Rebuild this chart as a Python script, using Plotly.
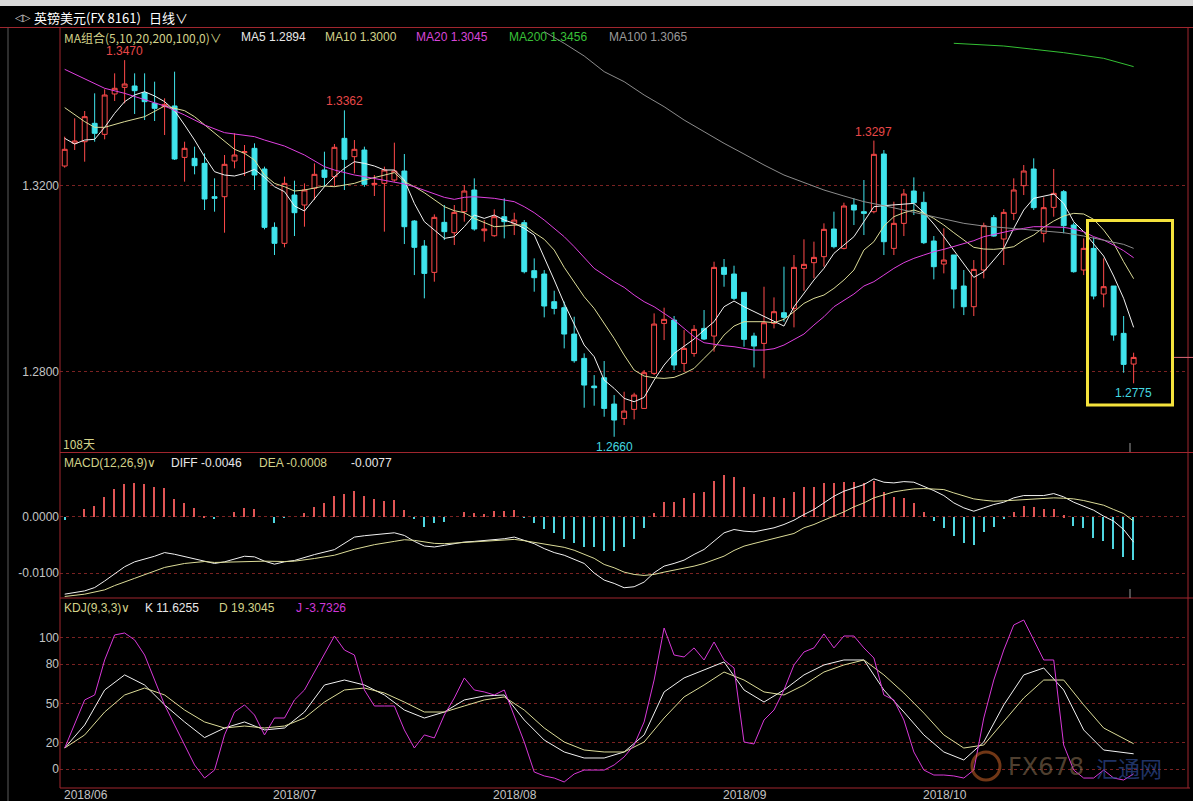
import plotly.graph_objects as go

W, H = 1193, 801

# ---------------- data ----------------
opens = [1.32423, 1.32911, 1.32946, 1.33341, 1.33104, 1.33972, 1.34115, 1.34144, 1.34000, 1.33771,
         1.33699, 1.33714, 1.32609, 1.32588, 1.32480, 1.31763, 1.31763, 1.32531, 1.32710, 1.32803,
         1.32358, 1.31104, 1.30760, 1.31799, 1.31584, 1.31943, 1.32337, 1.32194, 1.33018, 1.32624,
         1.32767, 1.32022, 1.32050, 1.32122, 1.32315, 1.31240, 1.30702, 1.30136, 1.31211, 1.30989,
         1.31441, 1.31907, 1.31032, 1.30924, 1.31333, 1.31190, 1.31204, 1.30172, 1.30100, 1.29505,
         1.29376, 1.28809, 1.28286, 1.27691, 1.27870, 1.27304, 1.26995, 1.27189, 1.27210, 1.27963,
         1.29039, 1.29110, 1.28178, 1.28393, 1.28931, 1.28766, 1.30243, 1.30100, 1.29706, 1.28766,
         1.28609, 1.29039, 1.29268, 1.29361, 1.30222, 1.30344, 1.30473, 1.31068, 1.30652, 1.31584,
         1.31441, 1.31441, 1.32681, 1.30652, 1.31190, 1.31885, 1.31641, 1.30810, 1.30315, 1.30509,
         1.29842, 1.29397, 1.30186, 1.31312, 1.30853, 1.31405, 1.32000, 1.32359, 1.30975, 1.31534,
         1.31871, 1.31154, 1.30186, 1.30652, 1.29670, 1.29842, 1.28824, 1.28164]
highs = [1.33054, 1.33448, 1.33606, 1.33986, 1.34072, 1.34416, 1.34700, 1.34416, 1.34416, 1.34237,
         1.33879, 1.34452, 1.32946, 1.32839, 1.32695, 1.32158, 1.32660, 1.33126, 1.32875, 1.32911,
         1.32409, 1.31211, 1.32194, 1.32108, 1.32050, 1.32480, 1.32731, 1.32896, 1.33620, 1.32982,
         1.32839, 1.32229, 1.32409, 1.32925, 1.32681, 1.31261, 1.30831, 1.31383, 1.31584, 1.31584,
         1.32014, 1.32158, 1.31261, 1.31491, 1.31728, 1.31419, 1.31261, 1.30437, 1.30186, 1.29741,
         1.29505, 1.29182, 1.28394, 1.27927, 1.28229, 1.27497, 1.27569, 1.27547, 1.28035, 1.29254,
         1.29376, 1.29197, 1.28895, 1.29003, 1.29326, 1.30365, 1.30423, 1.30279, 1.29706, 1.28838,
         1.29827, 1.29598, 1.30258, 1.30509, 1.30846, 1.30796, 1.31190, 1.31441, 1.31634, 1.31728,
         1.32122, 1.32970, 1.32767, 1.31656, 1.31928, 1.32179, 1.31871, 1.30917, 1.31082, 1.30509,
         1.30186, 1.30401, 1.31204, 1.31369, 1.31498, 1.32158, 1.32445, 1.32588, 1.31749, 1.32359,
         1.31907, 1.31204, 1.30867, 1.30889, 1.30437, 1.29842, 1.29197, 1.28408]
lows = [1.32387, 1.32767, 1.32516, 1.32946, 1.32997, 1.33821, 1.33771, 1.33542, 1.33412, 1.33391,
        1.33090, 1.32552, 1.32086, 1.32244, 1.31477, 1.31441, 1.30989, 1.32373, 1.32208, 1.31907,
        1.31061, 1.30509, 1.30674, 1.30917, 1.31118, 1.31692, 1.31978, 1.31978, 1.31907, 1.32265,
        1.31978, 1.31778, 1.31011, 1.32086, 1.30745, 1.30078, 1.29577, 1.29935, 1.30831, 1.30724,
        1.31226, 1.31032, 1.30795, 1.30903, 1.30867, 1.30939, 1.30114, 1.29720, 1.29168, 1.29232,
        1.28501, 1.28193, 1.27225, 1.27268, 1.27031, 1.26600, 1.26852, 1.26974, 1.27210, 1.27927,
        1.28680, 1.28035, 1.27999, 1.28322, 1.28680, 1.28429, 1.29827, 1.29541, 1.28537, 1.28092,
        1.27856, 1.28931, 1.29075, 1.28953, 1.29741, 1.30007, 1.30258, 1.30652, 1.30630, 1.31154,
        1.30939, 1.31405, 1.30509, 1.30509, 1.30917, 1.31369, 1.30745, 1.29985, 1.30114, 1.29361,
        1.29218, 1.29197, 1.30007, 1.30903, 1.30294, 1.31261, 1.31799, 1.31477, 1.30781, 1.31333,
        1.30975, 1.30129, 1.30078, 1.29555, 1.29383, 1.28666, 1.27978, 1.27750]
closes = [1.32782, 1.32961, 1.33484, 1.33126, 1.33950, 1.34094, 1.34187, 1.34043, 1.33807, 1.33663,
          1.33749, 1.32574, 1.32803, 1.32430, 1.31713, 1.31728, 1.32459, 1.32660, 1.32731, 1.32229,
          1.31104, 1.30760, 1.32050, 1.31419, 1.31907, 1.32244, 1.32179, 1.32825, 1.32566, 1.32782,
          1.32029, 1.32050, 1.32337, 1.32315, 1.31118, 1.30674, 1.30114, 1.31319, 1.31011, 1.31426,
          1.31885, 1.31068, 1.31068, 1.31333, 1.31226, 1.31261, 1.30150, 1.30021, 1.29412, 1.29361,
          1.28809, 1.28236, 1.27712, 1.27655, 1.27210, 1.26960, 1.27153, 1.27497, 1.27978, 1.29024,
          1.29125, 1.28143, 1.28501, 1.28910, 1.28702, 1.30243, 1.30093, 1.29577, 1.28695, 1.28551,
          1.29053, 1.29290, 1.29168, 1.30243, 1.30308, 1.30458, 1.31061, 1.30688, 1.31563, 1.31477,
          1.31405, 1.32674, 1.30795, 1.31190, 1.31821, 1.31634, 1.30774, 1.30258, 1.30401, 1.29777,
          1.29397, 1.30200, 1.31140, 1.30917, 1.31426, 1.31907, 1.32315, 1.31527, 1.31527, 1.31835,
          1.31140, 1.30150, 1.30652, 1.29627, 1.29828, 1.28788, 1.28157, 1.28307]
days = list(range(len(closes)))

ma5 = [1.33018, 1.32896, 1.32982, 1.32997, 1.33255, 1.33556, 1.33807, 1.33951, 1.34022, 1.33929,
       1.33807, 1.33613, 1.33305, 1.32982, 1.32624, 1.32301, 1.32229, 1.32208, 1.32265, 1.32351,
       1.32179, 1.31978, 1.31871, 1.31563, 1.31455, 1.31728, 1.31978, 1.32194, 1.32373, 1.32516,
       1.32480, 1.32423, 1.32337, 1.32337, 1.32122, 1.31620, 1.31226, 1.31046, 1.30867, 1.30903,
       1.31118, 1.31369, 1.31297, 1.31369, 1.31261, 1.31190, 1.31082, 1.30939, 1.30473, 1.29971,
       1.29469, 1.29003, 1.28573, 1.28322, 1.27820, 1.27641, 1.27426, 1.27354, 1.27447, 1.27820,
       1.28143, 1.28393, 1.28551, 1.28702, 1.28895, 1.29075, 1.29397, 1.29519, 1.29397, 1.29290,
       1.29182, 1.29075, 1.28981, 1.29397, 1.29684, 1.29971, 1.30222, 1.30544, 1.30724, 1.30903,
       1.31226, 1.31548, 1.31570, 1.31591, 1.31606, 1.31620, 1.31419, 1.31175, 1.30903, 1.30616,
       1.30329, 1.30028, 1.30150, 1.30401, 1.30652, 1.31082, 1.31477, 1.31728, 1.31778, 1.31821,
       1.31620, 1.31226, 1.31011, 1.30760, 1.30487, 1.30057, 1.29577, 1.28953]

ma10_x = [0, 2, 3, 4, 6, 8, 10, 12, 13, 14, 16, 17, 18, 19, 20, 21, 22, 23, 24, 26,
          27, 29, 30, 32, 33, 34, 35, 36, 37, 38, 39, 40, 41, 42, 43, 44, 45, 46, 47, 48,
          49, 50, 51, 52, 53, 54, 55, 56, 57, 58, 59, 60, 61, 62, 63, 64, 65, 66, 67, 68,
          69, 70, 71, 72, 73, 74, 75, 76, 77, 78, 79, 80, 81, 82, 83, 84, 85, 86, 87, 88,
          89, 90, 91, 92, 93, 94, 95, 96, 97, 98, 99, 100, 101, 102, 103, 104, 105, 106, 107]
ma10 = [1.33678, 1.33377, 1.33255, 1.33255, 1.33377, 1.33484, 1.33714, 1.33613, 1.33484, 1.33305,
        1.32946, 1.32782, 1.32695, 1.32552, 1.32229, 1.32050, 1.31978, 1.31885, 1.31907, 1.31993,
        1.31978, 1.32050, 1.32122, 1.32229, 1.32280, 1.32086, 1.31978, 1.31849, 1.31692, 1.31548,
        1.31462, 1.31419, 1.31297, 1.31204, 1.31118, 1.31132, 1.31154, 1.31154, 1.30989, 1.30846,
        1.30616, 1.30243, 1.29935, 1.29612, 1.29361, 1.29039, 1.28716, 1.28358, 1.28035, 1.27906,
        1.27870, 1.27856, 1.27877, 1.27963, 1.28071, 1.28286, 1.28501, 1.28788, 1.28981, 1.29075,
        1.29075, 1.29075, 1.29053, 1.29125, 1.29290, 1.29469, 1.29577, 1.29648, 1.29792, 1.29971,
        1.30186, 1.30616, 1.30795, 1.31132, 1.31333, 1.31419, 1.31477, 1.31405, 1.31297, 1.31154,
        1.30989, 1.30831, 1.30674, 1.30638, 1.30631, 1.30652, 1.30688, 1.30831, 1.30939, 1.31104,
        1.31240, 1.31348, 1.31405, 1.31391, 1.31276, 1.31046, 1.30760, 1.30365, 1.30000]

ma20_x = [0, 4, 6, 8, 10, 12, 14, 16, 18, 19, 20, 22, 24, 26,
          27, 29, 30, 32, 34, 35, 36, 37, 38, 39, 40, 41, 42, 43, 44, 45, 46, 47, 48, 49, 50, 51, 52, 53,
          54, 55, 56, 57, 58, 59, 60, 61, 62, 63, 64, 65, 66, 67, 68, 69, 70, 71, 72, 73, 74, 75, 76, 77, 78, 79, 80,
          81, 82, 83, 84, 85, 86, 87, 88, 89, 90, 91, 92, 93, 94, 95, 96, 97, 98, 99, 100, 101, 102, 103, 104, 105, 106, 107]
ma20 = [1.34502, 1.34094, 1.33986, 1.33843, 1.33714, 1.33520, 1.33305, 1.33140, 1.33090, 1.33054, 1.32982, 1.32853, 1.32660, 1.32409,
        1.32337, 1.32229, 1.32194, 1.32122, 1.32036, 1.31978, 1.31907, 1.31821, 1.31749, 1.31706, 1.31749, 1.31763, 1.31749, 1.31728,
        1.31692, 1.31656, 1.31548, 1.31419, 1.31261, 1.31082, 1.30903, 1.30688, 1.30458, 1.30222,
        1.30078, 1.29935, 1.29813, 1.29648, 1.29505, 1.29397, 1.29254, 1.29110, 1.28931, 1.28752, 1.28623, 1.28587, 1.28558,
        1.28537, 1.28501, 1.28465, 1.28465, 1.28494, 1.28573, 1.28695, 1.28809, 1.29003, 1.29182, 1.29397, 1.29526, 1.29670, 1.29842,
        1.29935, 1.30078, 1.30222, 1.30344, 1.30437, 1.30509, 1.30580, 1.30631, 1.30688, 1.30745, 1.30817, 1.30903, 1.30953, 1.30996,
        1.31046, 1.31082, 1.31118, 1.31118, 1.31118, 1.31104, 1.31068, 1.31011, 1.30903, 1.30831, 1.30724, 1.30602, 1.30451]

ma100_x = [48, 50, 52, 54, 56, 58, 60, 62, 64, 66, 68, 70, 72, 74, 76, 78, 80, 82, 84, 86,
           88, 90, 92, 94, 96, 98, 100, 102, 104, 106, 107]
ma100 = [1.35313, 1.35062, 1.34789, 1.34452, 1.34237, 1.33950, 1.33699, 1.33412, 1.33162, 1.32911,
         1.32681, 1.32445, 1.32229, 1.32065, 1.31907, 1.31778, 1.31656, 1.31570, 1.31477, 1.31369,
         1.31276, 1.31190, 1.31132, 1.31097, 1.31068, 1.31032, 1.30989, 1.30917, 1.30831, 1.30738, 1.30652]

ma200_x = [89, 94, 97, 100, 104, 107]
ma200 = [1.35062, 1.35004, 1.34933, 1.34861, 1.34739, 1.34560]

macd_hist = [-0.0006, 0.0, 0.00144, 0.00191, 0.00349, 0.00495, 0.00582, 0.00600, 0.00582, 0.00524,
             0.00512, 0.00325, 0.00249, 0.00162, 0.00016, -0.00043, 0.0, 0.00092, 0.00162, 0.00144,
             0.0, -0.00101, -0.00008, 0.0, 0.00063, 0.00179, 0.00249, 0.00366, 0.00407, 0.00460,
             0.00366, 0.00320, 0.00290, 0.00308, 0.00133, -0.00019, -0.00171, -0.00101, -0.00084, 0.0,
             0.00092, 0.00074, 0.00045, 0.00103, 0.00115, 0.00133, -0.00008, -0.00101, -0.00218, -0.00276,
             -0.00393, -0.00463, -0.00522, -0.00539, -0.00595, -0.00595, -0.00524, -0.00395, -0.00200, 0.00065,
             0.00271, 0.00271, 0.00330, 0.00418, 0.00436, 0.00642, 0.00742, 0.00701, 0.00536, 0.00406,
             0.00359, 0.00359, 0.00330, 0.00442, 0.00524, 0.00536, 0.00607, 0.00595, 0.00618, 0.00624,
             0.00607, 0.00642, 0.00448, 0.00348, 0.00330, 0.00253, 0.00094, -0.00071, -0.00188, -0.00330,
             -0.00454, -0.00495, -0.00259, -0.00183, -0.00041, 0.00094, 0.00200, 0.00183, 0.00135, 0.00135,
             0.00035, -0.00159, -0.00200, -0.00365, -0.00418, -0.00571, -0.00713, -0.00760]

diff_x = [0, 2, 3, 4, 6, 7, 9, 10, 11, 13, 14, 15, 16, 18, 19, 20, 21, 22, 23, 25, 27, 29, 30, 32, 33, 34,
          35, 36, 37, 38, 40, 41, 43, 44, 45, 46, 47, 48, 49, 50, 51, 52, 53,
          54, 55, 56, 57, 58, 59, 60, 61, 62, 63, 64, 65, 66, 67, 68, 69, 70, 71, 72, 73, 74, 75, 76, 77,
          78, 79, 80, 81, 82, 83, 84, 85, 86, 87, 88, 89, 90, 91, 92, 93, 94, 95, 96, 97, 98, 99, 100,
          101, 102, 103, 104, 105, 106, 107]
diff = [-0.01374, -0.01316, -0.01257, -0.01141, -0.00889, -0.00802, -0.00703, -0.00638, -0.00668, -0.00743,
        -0.00790, -0.00831, -0.00802, -0.00703, -0.00714, -0.00790, -0.00843, -0.00802, -0.00778, -0.00673,
        -0.00586, -0.00364, -0.00340, -0.00311, -0.00288, -0.00335, -0.00440, -0.00522, -0.00539, -0.00510,
        -0.00451, -0.00440, -0.00416, -0.00393, -0.00364, -0.00416, -0.00481, -0.00568, -0.00638, -0.00685,
        -0.00755, -0.00831, -0.01000,
        -0.01125, -0.01184, -0.01260, -0.01243, -0.01160, -0.00995, -0.00878, -0.00830, -0.00772, -0.00671,
        -0.00583, -0.00436, -0.00289, -0.00230, -0.00259, -0.00271, -0.00241, -0.00200, -0.00141, -0.00065,
        0.00035, 0.00124, 0.00241, 0.00359, 0.00448, 0.00507, 0.00565, 0.00666, 0.00607, 0.00595,
        0.00618, 0.00607, 0.00536, 0.00459, 0.00371, 0.00241, 0.00153, 0.00094, 0.00153, 0.00212,
        0.00253, 0.00330, 0.00371, 0.00371, 0.00371, 0.00406, 0.00348, 0.00253, 0.00183, 0.00112,
        0.00006, -0.00082, -0.00230, -0.00454]

dea_x = [0, 2, 4, 5, 7, 9, 10, 12, 14, 15, 16, 18, 20, 22, 23, 25, 27, 29, 31, 33, 34, 35, 37, 38,
         40, 42, 43, 45, 46, 48, 50, 51, 52, 53,
         54, 55, 56, 57, 58, 59, 60, 61, 62, 63, 64, 65, 66, 67, 68, 69, 70, 71, 72, 73, 74, 75, 76, 77,
         78, 79, 80, 81, 82, 83, 84, 85, 86, 87, 88, 89, 90, 91, 92, 93, 94, 95, 96, 97, 98, 99, 100,
         101, 102, 103, 104, 105, 106, 107]
dea = [-0.01415, -0.01374, -0.01298, -0.01222, -0.01094, -0.00965, -0.00901, -0.00831, -0.00796, -0.00813,
       -0.00808, -0.00790, -0.00790, -0.00796, -0.00790, -0.00743, -0.00685, -0.00580, -0.00498, -0.00440,
       -0.00411, -0.00422, -0.00475, -0.00481, -0.00463, -0.00440, -0.00434, -0.00405, -0.00428, -0.00492,
       -0.00545, -0.00597, -0.00670, -0.00740,
       -0.00848, -0.00907, -0.00984, -0.01025, -0.01043, -0.01025, -0.00984, -0.00948, -0.00919, -0.00878,
       -0.00830, -0.00772, -0.00701, -0.00601, -0.00524, -0.00477, -0.00436, -0.00395, -0.00348, -0.00300,
       -0.00200, -0.00141, -0.00065, 0.00006, 0.00082, 0.00171, 0.00241, 0.00330, 0.00389, 0.00436,
       0.00465, 0.00489, 0.00495, 0.00489, 0.00477, 0.00418, 0.00371, 0.00312, 0.00289, 0.00271,
       0.00277, 0.00289, 0.00300, 0.00312, 0.00324, 0.00330, 0.00324, 0.00312, 0.00283, 0.00241,
       0.00200, 0.00124, 0.00053, -0.00082]

k_x = [0, 2, 4, 6, 8, 10, 12, 14, 16, 18, 20, 22, 24, 26, 28, 30, 32, 34, 36, 38, 40, 42, 44, 46, 48,
       50, 52, 54, 56, 58, 60, 62, 64, 66, 68, 70, 72, 74, 76, 78, 80, 82, 84, 86, 88, 90, 92, 94, 96,
       98, 100, 102, 104, 107]
k_vals = [16.0, 33.6, 60.3, 71.8, 64.1, 48.9, 35.9, 24.0, 31.3, 35.9, 29.8, 31.3, 43.5, 64.1, 67.9, 64.1,
          56.5, 45.0, 38.9, 43.5, 52.7, 55.7, 56.5, 37.4, 22.1, 13.0, 8.4, 8.4, 13.0, 26.0, 58.8, 69.5,
          75.6, 81.7, 60.3, 51.1, 60.3, 71.8, 79.4, 83.2, 83.2, 60.3, 43.5, 26.0, 13.0, 6.9, 20.6, 48.9,
          71.8, 77.1, 60.3, 29.8, 14.5, 11.6]
d_x = k_x
d_vals = [16.0, 26.0, 43.5, 56.5, 61.8, 56.5, 45.0, 35.9, 31.3, 32.8, 31.3, 32.8, 38.9, 51.1, 60.3, 61.8,
          58.0, 51.1, 43.5, 43.5, 48.1, 52.7, 55.0, 45.0, 31.3, 20.6, 14.5, 13.0, 13.0, 20.6, 38.9, 55.0,
          64.1, 74.0, 67.9, 58.8, 56.5, 64.1, 74.0, 79.4, 83.2, 71.8, 58.0, 42.7, 26.0, 16.0, 18.3, 35.9,
          54.2, 67.9, 67.9, 48.9, 31.3, 19.3]
j_x = [0] + list(range(2, 108))
j_vals = [16.0, 52.7, 56.5, 83.2, 102.3, 103.8, 98.5, 87.0, 67.9, 48.9, 33.6, 18.3, 3.1, -6.9, -0.8, 26.0,
          43.5, 48.9, 41.2, 26.0, 38.9, 38.9, 52.7, 60.3, 74.0, 87.0, 101.5, 90.8, 87.0, 60.3, 48.1, 48.1,
          48.1, 29.8, 16.0, 26.0, 23.7, 41.2, 54.2, 69.5, 60.3, 58.8, 56.5, 60.3, 41.2, 20.6, -2.3, -5.3,
          -6.9, -9.9, -3.8, -0.8, -0.8, -0.8, 3.1, 9.2, 18.3, 35.9, 67.9, 107.6, 87.0, 85.5, 92.4, 83.2,
          96.9, 83.2, 77.1, 20.6, 19.1, 37.4, 45.0, 60.3, 79.4, 89.3, 92.4, 103.1, 92.4, 101.5, 101.5, 92.4,
          84.7, 56.5, 52.7, 37.4, 13.0, -0.8, -4.6, -4.6, -5.3, -6.9, -0.8, 38.9, 67.9, 90.8, 109.9, 113.7,
          98.5, 83.2, 83.2, 18.3, -0.8, -6.9, -6.9, -0.8, -6.9, -8.4, -3.7]

price_ticks = [1.32, 1.28]
price_tick_text = ['1.3200', '1.2800']
macd_ticks = [0.0, -0.01]
macd_tick_text = ['0.0000', '-0.0100']
kdj_ticks = [100, 80, 50, 20, 0]
month_pos = [0, 21, 43, 66, 86]
month_labels = ['2018/06', '2018/07', '2018/08', '2018/09', '2018/10']

# ---------------- styling helpers ----------------
def fx(px):
    return px / W

def fy(py):
    return 1 - py / H

RED = '#ff4a4a'
CYAN = '#3fe4ec'
FRAME = '#a0262e'
GRID = '#7a2222'
KHAKI = '#d2d28a'
MAG = '#e040e0'
LAB = '#c4c4c4'
FONT = 'Liberation Sans, Arial, sans-serif'
CJK = 'Noto Sans CJK SC, sans-serif'

fig = go.Figure()

fig.add_trace(go.Candlestick(
    x=days, open=opens, high=highs, low=lows, close=closes,
    increasing=dict(line=dict(color=RED, width=1), fillcolor='#000000'),
    decreasing=dict(line=dict(color=CYAN, width=1), fillcolor=CYAN),
    whiskerwidth=0, hoverinfo='skip', xaxis='x', yaxis='y', showlegend=False))

line_specs = [
    (days, ma5, '#f2f2f2'),
    (ma10_x, ma10, '#dcdc98'),
    (ma20_x, ma20, MAG),
    (ma100_x, ma100, '#8c8c8c'),
    (ma200_x, ma200, '#34c034'),
]
for xs, ys, col in line_specs:
    fig.add_trace(go.Scatter(x=xs, y=ys, mode='lines', line=dict(color=col, width=1),
                             hoverinfo='skip', showlegend=False, xaxis='x', yaxis='y'))

bar_cols = ['#e05454' if v >= 0 else '#4fd6e0' for v in macd_hist]
fig.add_trace(go.Bar(x=days, y=macd_hist, width=0.14, marker=dict(color=bar_cols, line=dict(width=0)),
                     hoverinfo='skip', showlegend=False, xaxis='x', yaxis='y2'))
fig.add_trace(go.Scatter(x=diff_x, y=diff, mode='lines', line=dict(color='#f2f2f2', width=1),
                         hoverinfo='skip', showlegend=False, xaxis='x', yaxis='y2'))
fig.add_trace(go.Scatter(x=dea_x, y=dea, mode='lines', line=dict(color='#dcdc98', width=1),
                         hoverinfo='skip', showlegend=False, xaxis='x', yaxis='y2'))

fig.add_trace(go.Scatter(x=k_x, y=k_vals, mode='lines', line=dict(color='#f2f2f2', width=1),
                         hoverinfo='skip', showlegend=False, xaxis='x', yaxis='y3'))
fig.add_trace(go.Scatter(x=d_x, y=d_vals, mode='lines', line=dict(color='#dcdc98', width=1),
                         hoverinfo='skip', showlegend=False, xaxis='x', yaxis='y3'))
fig.add_trace(go.Scatter(x=j_x, y=j_vals, mode='lines', line=dict(color='#d838d8', width=1),
                         hoverinfo='skip', showlegend=False, xaxis='x', yaxis='y3'))

x0 = (60 - 64.7) / 9.99
x1 = (1188 - 64.7) / 9.99

def yax(dom, rng, tv, tt):
    return dict(domain=dom, range=rng, tickvals=tv, ticktext=tt, showgrid=True, gridcolor=GRID,
                griddash='dot', gridwidth=1, zeroline=False, showline=False, ticks='',
                tickfont=dict(family=FONT, size=12, color=LAB), anchor='x', fixedrange=True)

fig.update_layout(
    width=W, height=H, margin=dict(l=0, r=0, t=0, b=0, pad=0),
    paper_bgcolor='#000000', plot_bgcolor='#000000', bargap=0, showlegend=False,
    xaxis=dict(domain=[fx(60), fx(1188)], range=[x0, x1], showticklabels=False, showgrid=False,
               zeroline=False, showline=False, ticks='', anchor='y3', fixedrange=True,
               rangeslider=dict(visible=False)),
    yaxis=yax([fy(452.5), fy(28)], [1.26262, 1.35391], price_ticks, price_tick_text),
    yaxis2=yax([fy(598), fy(452.5)], [-0.01442, 0.01133], macd_ticks, macd_tick_text),
    yaxis3=yax([fy(788), fy(598)], [-14.5, 130.5], kdj_ticks, [str(v) for v in kdj_ticks]),
)

shapes = []
def hline(y, xa, xb, col=FRAME, w=1):
    shapes.append(dict(type='line', xref='paper', yref='paper', x0=fx(xa), x1=fx(xb),
                       y0=fy(y), y1=fy(y), line=dict(color=col, width=w)))
def vline(x, ya, yb, col=FRAME, w=1):
    shapes.append(dict(type='line', xref='paper', yref='paper', x0=fx(x), x1=fx(x),
                       y0=fy(ya), y1=fy(yb), line=dict(color=col, width=w)))

# window chrome
shapes.append(dict(type='rect', xref='paper', yref='paper', x0=0, x1=1, y0=fy(6), y1=1,
                   fillcolor='#d9d9d9', line=dict(width=0)))
hline(27.5, 0, 1193)
hline(452.5, 60, 1193)
hline(598, 60, 1193)
hline(788, 60, 1190)
vline(60, 27.5, 788)
vline(1188, 27.5, 788)
vline(8, 27.5, 801, col='#5a5a5a')
# last-price marker and cursor ticks
shapes.append(dict(type='line', xref='paper', yref='y', x0=fx(1173), x1=1, y0=closes[-1], y1=closes[-1],
                   line=dict(color='#e06a78', width=1)))
vline(1130, 443, 452, col='#9a9a9a')
vline(1130, 589, 598, col='#9a9a9a')
# yellow highlight box
shapes.append(dict(type='rect', xref='paper', yref='paper', x0=fx(1087.5), x1=fx(1172.5),
                   y0=fy(405), y1=fy(220.5), line=dict(color='#f4e23c', width=3)))
# watermark logo ring
shapes.append(dict(type='circle', xref='paper', yref='paper', x0=fx(972), x1=fx(1000),
                   y0=fy(780), y1=fy(752), line=dict(color='rgba(205,100,40,0.55)', width=3)))
fig.update_layout(shapes=shapes)

ann = []
def txt(x, y, s, col, size=12, fam=FONT, anchor='left'):
    ann.append(dict(x=fx(x), y=fy(y), xref='paper', yref='paper', text=s, showarrow=False,
                    xanchor=anchor, yanchor='middle', font=dict(family=fam, size=size, color=col)))

txt(13, 17, '◁▷', '#d0d0d0', 10, 'DejaVu Sans')
txt(32, 17, '英镑美元(FX 8161)', '#ffffff', 13, CJK)
txt(147, 17, '日线∨', '#ffffff', 13, CJK)

txt(62, 37, 'MA组合(5,10,20,200,100,0)∨', KHAKI, 12, CJK)
txt(239, 37, 'MA5 1.2894', '#e8e8e8')
txt(323, 37, 'MA10 1.3000', KHAKI)
txt(414, 37, 'MA20 1.3045', '#d846d8')
txt(507, 37, 'MA200 1.3456', '#38c038')
txt(607, 37, 'MA100 1.3065', '#9a9a9a')

txt(62, 463, 'MACD(12,26,9)∨', KHAKI)
txt(169, 463, 'DIFF -0.0046', '#e8e8e8')
txt(257, 463, 'DEA -0.0008', KHAKI)
txt(349, 463, '-0.0077', '#e8e8e8')

txt(62, 608, 'KDJ(9,3,3)∨', KHAKI)
txt(143, 608, 'K 11.6255', '#e8e8e8')
txt(217, 608, 'D 19.3045', KHAKI)
txt(294, 608, 'J -3.7326', '#d038d8')

txt(61, 443, '108天', KHAKI, 12, CJK)

for pos, lab in zip(month_pos, month_labels):
    ann.append(dict(x=pos, y=fy(795), xref='x', yref='paper', text=lab, showarrow=False,
                    xanchor='left', yanchor='middle', xshift=-3,
                    font=dict(family=FONT, size=12, color=LAB)))

# high / low labels
hi_i = [6, 28, 81]
for i in hi_i:
    ann.append(dict(x=i, y=highs[i], xref='x', yref='y', text=f'{highs[i]:.4f}', showarrow=False,
                    xanchor='center', yanchor='bottom', yshift=0,
                    font=dict(family=FONT, size=12, color='#e84848')))
lo_i = [55, 107]
for i in lo_i:
    ann.append(dict(x=i, y=lows[i], xref='x', yref='y', text=f'{lows[i]:.4f}', showarrow=False,
                    xanchor='center', yanchor='top', yshift=-1,
                    font=dict(family=FONT, size=12, color='#44d8e0')))

# watermark
txt(1006, 767, 'FX678', 'rgba(150,120,90,0.55)', 24, 'DejaVu Sans')
txt(1094, 767, '汇通网', 'rgba(50,80,160,0.65)', 22, CJK)

fig.update_layout(annotations=ann)
fig.write_html('out.html', config={'displayModeBar': False},
               post_script="document.body.style.margin='0px';document.body.style.overflow='hidden';")
